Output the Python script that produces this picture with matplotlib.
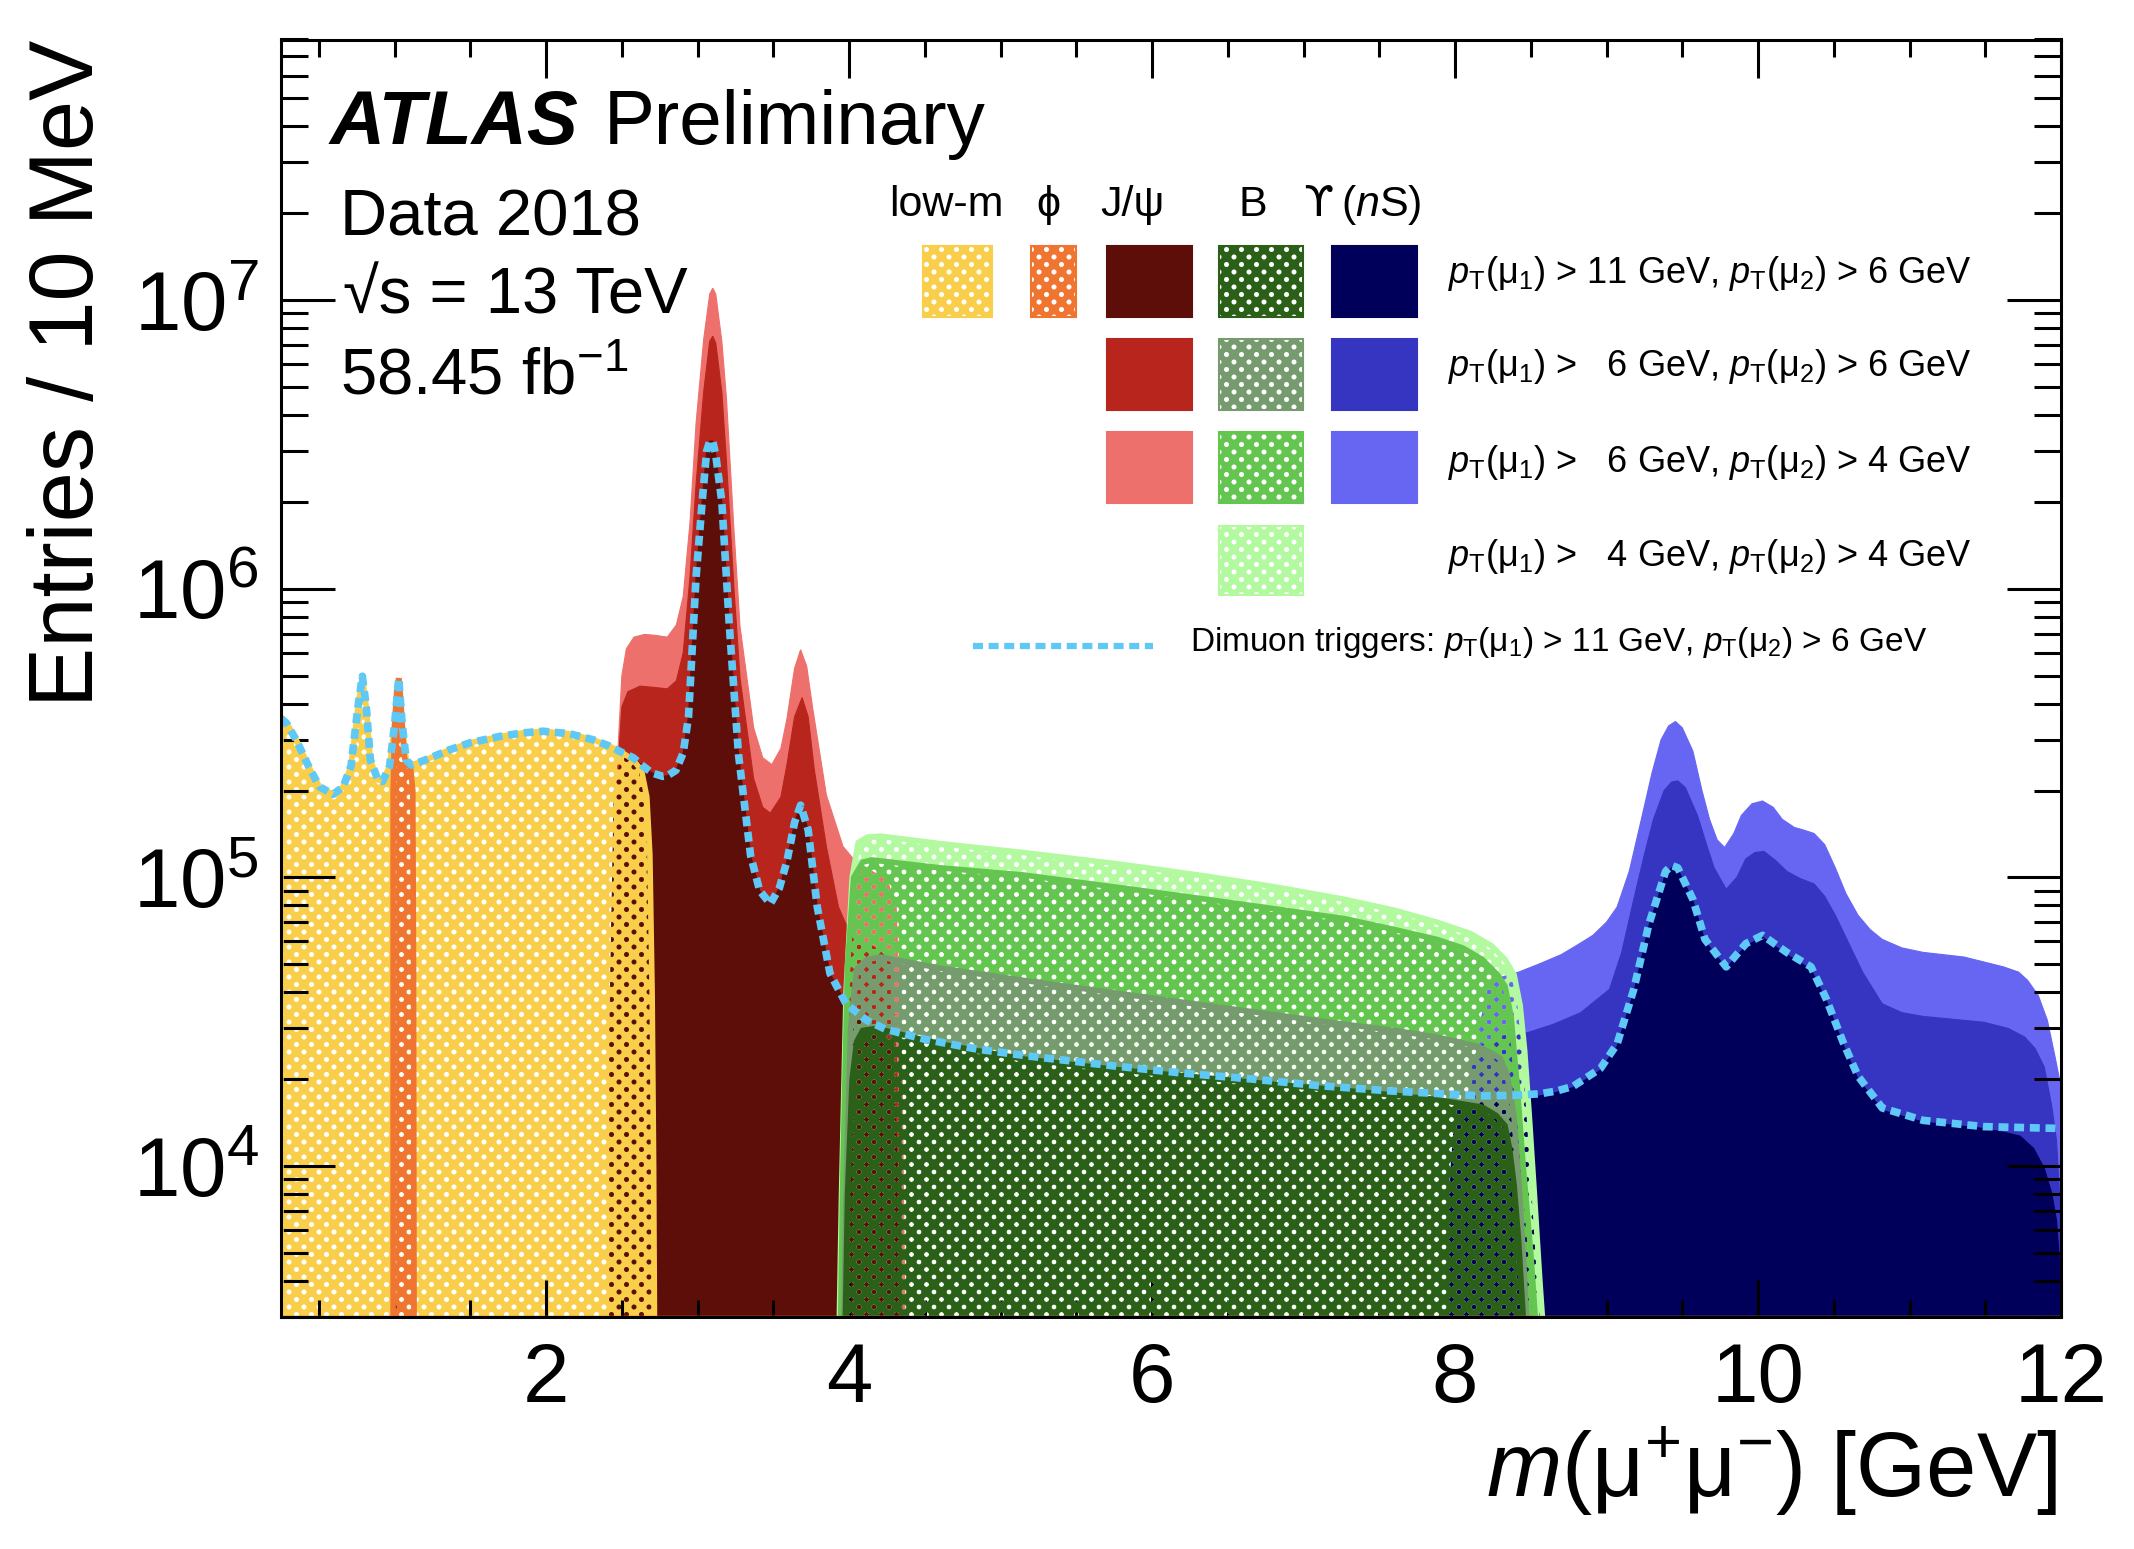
import numpy as np
import matplotlib
matplotlib.use("Agg")
import matplotlib.pyplot as plt
from matplotlib.colors import to_rgb
from matplotlib.image import AxesImage
from matplotlib.patches import Rectangle
from matplotlib.lines import Line2D
from matplotlib.ticker import MultipleLocator, LogLocator, NullFormatter

plt.rcParams["font.family"] = ["Liberation Sans", "DejaVu Sans"]
plt.rcParams["mathtext.fontset"] = "custom"
plt.rcParams["mathtext.rm"] = "Liberation Sans"
plt.rcParams["mathtext.it"] = "Liberation Sans:italic"
plt.rcParams["mathtext.bf"] = "Liberation Sans:bold"
plt.rcParams["mathtext.sf"] = "Liberation Sans"

# ---------------- data : m(mu+mu-) [GeV] -> entries / 10 MeV ----------------
# low-mass trigger (yellow)
lowm_x = [0.25, 0.25, 0.285, 0.35, 0.44, 0.505, 0.593, 0.66, 0.712, 0.758, 0.787,
          0.813, 0.84, 0.89, 0.92, 0.967, 1.0, 1.027, 1.05, 1.077, 1.11, 1.2, 1.364,
          1.5, 1.694, 1.85, 1.98, 2.15, 2.31, 2.42, 2.507, 2.575, 2.63, 2.665, 2.685,
          2.70, 2.71, 2.72]
lowm_y = [1e3, 3.6e5, 3.45e5, 3.0e5, 2.38e5, 2.06e5, 1.94e5, 2.06e5, 2.43e5, 3.9e5,
          4.98e5, 3.9e5, 2.55e5, 2.18e5, 2.15e5, 2.43e5, 3.4e5, 4.9e5, 3.4e5, 2.55e5,
          2.45e5, 2.55e5, 2.77e5, 2.93e5, 3.08e5, 3.17e5, 3.21e5, 3.15e5, 3.0e5,
          2.85e5, 2.7e5, 2.55e5, 2.35e5, 1.9e5, 1.2e5, 4e4, 1e4, 1e3]

# phi trigger (orange)
phi_x = [0.99, 0.99, 1.0, 1.015, 1.027, 1.04, 1.05, 1.065, 1.085, 1.105, 1.12, 1.125, 1.13]
phi_y = [1e3, 2e5, 3.4e5, 4.5e5, 4.9e5, 4.2e5, 3.4e5, 2.6e5, 2.45e5, 2.4e5, 2.0e5, 5e4, 1e3]

# J/psi triggers : 6/4, 6/6, 11/6 GeV
jpsi64_x = [2.40, 2.43, 2.47, 2.50, 2.53, 2.58, 2.65, 2.72, 2.80, 2.86, 2.905, 2.95,
            2.99, 3.04, 3.08, 3.10, 3.12, 3.16, 3.19, 3.24, 3.28, 3.37, 3.43, 3.49,
            3.55, 3.59, 3.64, 3.68, 3.72, 3.76, 3.85, 3.96, 4.04, 4.15, 4.25, 4.31,
            4.35, 4.38]
jpsi64_y = [1e3, 5e4, 2.5e5, 5.0e5, 6.2e5, 6.8e5, 6.95e5, 6.9e5, 6.8e5, 7.5e5, 9.4e5,
            1.7e6, 3.75e6, 7.3e6, 1.05e7, 1.1e7, 1.05e7, 7.2e6, 4.6e6, 1.6e6, 7.4e5,
            3.3e5, 2.6e5, 2.46e5, 2.8e5, 3.55e5, 5.3e5, 6.15e5, 5.4e5, 3.85e5, 1.93e5,
            1.28e5, 1.14e5, 1.05e5, 9.8e4, 8e4, 2e4, 1e3]
jpsi66_x = [2.40, 2.43, 2.47, 2.50, 2.54, 2.62, 2.72, 2.80, 2.86, 2.905, 2.95, 2.99,
            3.04, 3.08, 3.10, 3.12, 3.16, 3.19, 3.24, 3.28, 3.37, 3.43, 3.48, 3.55,
            3.59, 3.64, 3.69, 3.73, 3.77, 3.85, 3.93, 4.0, 4.1, 4.2, 4.28, 4.33, 4.36]
jpsi66_y = [1e3, 4e4, 2.2e5, 3.9e5, 4.4e5, 4.6e5, 4.55e5, 4.5e5, 4.8e5, 6e5, 1.1e6,
            2.3e6, 4.8e6, 7.2e6, 7.5e6, 7.1e6, 4.8e6, 2.8e6, 1.0e6, 4.9e5, 2.2e5,
            1.75e5, 1.67e5, 1.9e5, 2.46e5, 3.6e5, 4.2e5, 3.6e5, 2.37e5, 1.28e5, 7.9e4,
            6.5e4, 6.0e4, 5.6e4, 5e4, 1.5e4, 1e3]
jpsi116_x = [2.40, 2.42, 2.45, 2.50, 2.575, 2.64, 2.70, 2.77, 2.80, 2.857, 2.905, 2.94,
             2.99, 3.03, 3.06, 3.08, 3.10, 3.12, 3.16, 3.21, 3.27, 3.35, 3.41, 3.48,
             3.54, 3.59, 3.64, 3.68, 3.73, 3.79, 3.874, 3.98, 4.116, 4.2, 4.28, 4.33,
             4.37]
jpsi116_y = [1e3, 3e4, 2e5, 2.6e5, 2.6e5, 2.43e5, 2.3e5, 2.24e5, 2.25e5, 2.35e5,
             2.7e5, 3.6e5, 1.1e6, 2.0e6, 3.0e6, 3.25e6, 3.25e6, 2.9e6, 2.0e6, 7.4e5,
             2.67e5, 1.19e5, 9e4, 8.1e4, 9.2e4, 1.14e5, 1.55e5, 1.78e5, 1.46e5, 7.9e4,
             4.65e4, 3.65e4, 3.2e4, 3.0e4, 2.6e4, 8e3, 1e3]

# B triggers : 4/4, 6/4, 6/6, 11/6 GeV
b44_x = [3.92, 3.95, 3.98, 4.02, 4.06, 4.12, 4.21, 4.6, 5.15, 5.8, 6.36, 6.8, 7.27,
         7.6, 7.88, 8.1, 8.24, 8.33, 8.39, 8.43, 8.46, 8.49, 8.52, 8.56, 8.60, 8.63]
b44_y = [1e3, 8e3, 4e4, 1.0e5, 1.32e5, 1.38e5, 1.39e5, 1.31e5, 1.22e5, 1.11e5, 1.01e5,
         9.3e4, 8.4e4, 7.7e4, 7.0e4, 6.4e4, 5.8e4, 5.2e4, 4.6e4, 3.6e4, 2.5e4, 1.5e4,
         8.6e3, 4e3, 2e3, 1e3]
b64_x = [3.93, 3.96, 3.99, 4.03, 4.09, 4.15, 4.6, 5.15, 5.8, 6.36, 6.8, 7.27, 7.6, 7.88,
         8.05, 8.18, 8.28, 8.33, 8.37, 8.41, 8.45, 8.50, 8.54, 8.57]
b64_y = [1e3, 1e4, 5e4, 1.0e5, 1.13e5, 1.15e5, 1.08e5, 1.02e5, 9.2e4, 8.4e4, 7.8e4,
         7.2e4, 6.6e4, 6.1e4, 5.7e4, 5.2e4, 4.6e4, 4.2e4, 3.3e4, 1.9e4, 1e4, 5e3, 2.5e3,
         1e3]
b66_x = [3.95, 3.98, 4.01, 4.05, 4.12, 4.21, 4.6, 5.15, 5.8, 6.36, 6.8, 7.27, 7.6, 7.88,
         8.15, 8.25, 8.30, 8.34, 8.37, 8.39, 8.42, 8.45, 8.48, 8.50]
b66_y = [1e3, 8e3, 3e4, 4.8e4, 5.2e4, 5.3e4, 4.85e4, 4.4e4, 3.95e4, 3.6e4, 3.35e4,
         3.1e4, 2.95e4, 2.8e4, 2.6e4, 2.45e4, 2.35e4, 2.1e4, 1.75e4, 1.46e4, 9e3, 5e3,
         2.5e3, 1e3]
b116_x = [3.96, 3.99, 4.02, 4.05, 4.09, 4.18, 4.6, 5.15, 5.8, 6.36, 6.8, 7.27, 7.6, 7.88,
          8.18, 8.27, 8.33, 8.36, 8.39, 8.42, 8.45, 8.47]
b116_y = [1e3, 8e3, 2e4, 2.7e4, 2.95e4, 3.0e4, 2.65e4, 2.35e4, 2.15e4, 2.02e4, 1.92e4,
          1.83e4, 1.76e4, 1.7e4, 1.6e4, 1.5e4, 1.38e4, 1.15e4, 8.6e3, 5.5e3, 3e3, 1e3]

# Upsilon triggers : 6/4, 6/6, 11/6 GeV
ups64_x = [8.10, 8.13, 8.16, 8.22, 8.30, 8.42, 8.55, 8.70, 8.80, 8.91, 9.0, 9.07, 9.15,
           9.23, 9.30, 9.36, 9.41, 9.455, 9.50, 9.57, 9.63, 9.68, 9.73, 9.78, 9.84,
           9.89, 9.96, 10.03, 10.10, 10.16, 10.24, 10.30, 10.37, 10.44, 10.51, 10.58,
           10.66, 10.74, 10.82, 10.95, 11.09, 11.36, 11.62, 11.72, 11.78, 11.85, 11.91,
           11.96, 11.99, 12.0]
ups64_y = [1e3, 1e4, 3e4, 4.2e4, 4.5e4, 4.7e4, 5.0e4, 5.4e4, 5.8e4, 6.3e4, 7.0e4, 7.9e4,
           1.05e5, 1.59e5, 2.3e5, 3.0e5, 3.35e5, 3.47e5, 3.3e5, 2.74e5, 2.0e5, 1.59e5,
           1.35e5, 1.27e5, 1.42e5, 1.64e5, 1.8e5, 1.84e5, 1.75e5, 1.59e5, 1.49e5,
           1.46e5, 1.42e5, 1.3e5, 1.08e5, 8.8e4, 7.4e4, 6.6e4, 6.1e4, 5.7e4, 5.5e4,
           5.3e4, 4.9e4, 4.7e4, 4.4e4, 3.9e4, 3.2e4, 2.4e4, 2e4, 1e3]
ups66_x = [8.04, 8.07, 8.10, 8.16, 8.25, 8.35, 8.48, 8.65, 8.83, 9.02, 9.10, 9.18, 9.25,
           9.31, 9.38, 9.43, 9.47, 9.52, 9.60, 9.66, 9.71, 9.79, 9.86, 9.92, 9.98, 10.04,
           10.12, 10.19, 10.28, 10.37, 10.44, 10.51, 10.60, 10.69, 10.82, 10.95, 11.09,
           11.49, 11.65, 11.76, 11.83, 11.89, 11.94, 11.97, 12.0, 12.0]
ups66_y = [1e3, 1e4, 2.2e4, 2.6e4, 2.75e4, 2.85e4, 2.9e4, 3.1e4, 3.4e4, 4.1e4, 5.5e4,
           8.4e4, 1.2e5, 1.59e5, 2.0e5, 2.14e5, 2.16e5, 2.05e5, 1.64e5, 1.3e5, 1.08e5,
           9.1e4, 1.0e5, 1.16e5, 1.22e5, 1.23e5, 1.14e5, 1.05e5, 9.9e4, 9.5e4, 8.6e4,
           7.4e4, 5.9e4, 4.7e4, 3.65e4, 3.4e4, 3.3e4, 3.15e4, 3.0e4, 2.8e4, 2.55e4,
           2.2e4, 1.6e4, 1.23e4, 6.5e3, 1e3]
ups116_x = [7.93, 7.96, 8.0, 8.05, 8.2, 8.4, 8.56, 8.67, 8.78, 8.96, 9.07, 9.18, 9.28,
            9.39, 9.43, 9.47, 9.57, 9.65, 9.79, 9.92, 10.03, 10.19, 10.35, 10.45, 10.56,
            10.66, 10.82, 11.09, 11.49, 11.65, 11.73, 11.82, 11.89, 11.94, 11.97, 12.0,
            12.0]
ups116_y = [1e3, 8e3, 1.5e4, 1.68e4, 1.7e4, 1.72e4, 1.75e4, 1.8e4, 1.87e4, 2.15e4,
            2.6e4, 4.0e4, 6.8e4, 1.03e5, 1.08e5, 1.07e5, 8.3e4, 6.0e4, 4.85e4, 5.8e4,
            6.2e4, 5.4e4, 4.8e4, 3.75e4, 2.65e4, 2.0e4, 1.56e4, 1.42e4, 1.35e4, 1.3e4,
            1.27e4, 1.15e4, 9.8e3, 8e3, 6.5e3, 4e3, 1e3]

# dimuon triggers pT > 11, 6 GeV (dashed)
trig_x = [0.25, 0.285, 0.35, 0.44, 0.505, 0.593, 0.66, 0.712, 0.758, 0.787, 0.813, 0.84,
          0.89, 0.92, 0.967, 1.0, 1.027, 1.05, 1.077, 1.11, 1.2, 1.364, 1.5, 1.694,
          1.85, 1.98, 2.15, 2.31, 2.42, 2.507, 2.575, 2.64, 2.70, 2.77, 2.80, 2.857,
          2.905, 2.94, 2.99, 3.03, 3.06, 3.08, 3.10, 3.12, 3.16, 3.21, 3.27, 3.35, 3.41,
          3.48, 3.54, 3.59, 3.64, 3.68, 3.73, 3.79, 3.874, 3.98, 4.116, 4.24, 4.5, 4.85,
          5.2, 5.76, 6.2, 6.67, 7.1, 7.58, 8.0, 8.18, 8.4, 8.56, 8.67, 8.78, 8.96, 9.07,
          9.18, 9.28, 9.39, 9.43, 9.47, 9.57, 9.65, 9.79, 9.92, 10.03, 10.19, 10.35,
          10.45, 10.56, 10.66, 10.82, 11.09, 11.49, 12.0]
trig_y = [3.55e5, 3.43e5, 3.0e5, 2.38e5, 2.06e5, 1.94e5, 2.06e5, 2.43e5, 3.9e5, 4.98e5,
          3.9e5, 2.55e5, 2.18e5, 2.15e5, 2.43e5, 3.4e5, 4.9e5, 3.4e5, 2.55e5, 2.45e5,
          2.55e5, 2.77e5, 2.93e5, 3.08e5, 3.17e5, 3.21e5, 3.15e5, 3.0e5, 2.85e5, 2.7e5,
          2.6e5, 2.43e5, 2.3e5, 2.24e5, 2.25e5, 2.35e5, 2.7e5, 3.6e5, 1.1e6, 2.0e6,
          3.0e6, 3.25e6, 3.25e6, 2.9e6, 2.0e6, 7.4e5, 2.67e5, 1.19e5, 9e4, 8.1e4, 9.2e4,
          1.14e5, 1.55e5, 1.78e5, 1.46e5, 7.9e4, 4.65e4, 3.65e4, 3.2e4, 2.98e4, 2.75e4,
          2.54e4, 2.4e4, 2.22e4, 2.1e4, 2.0e4, 1.9e4, 1.82e4, 1.77e4, 1.75e4, 1.76e4,
          1.78e4, 1.82e4, 1.89e4, 2.18e4, 2.65e4, 4.1e4, 6.9e4, 1.05e5, 1.1e5, 1.08e5,
          8.4e4, 6.1e4, 4.9e4, 5.9e4, 6.3e4, 5.5e4, 4.9e4, 3.8e4, 2.7e4, 2.05e4, 1.59e4,
          1.44e4, 1.37e4, 1.35e4]

# colours
C_LOWM = "#F9CE4A"
C_PHI = "#EF7530"
C_JPSI = {"116": "#5E0E09", "66": "#B8251C", "64": "#ED706C"}
C_B = {"116": "#2B6019", "66": "#769B6E", "64": "#64C550", "44": "#B2F9A0"}
C_UPS = {"116": "#00005A", "66": "#3535C1", "64": "#6666F2"}
C_TRIG = "#5EC8F6"

# ---------------- figure ----------------
W, H = 2134, 1549
fig = plt.figure(figsize=(W / 100, H / 100), dpi=100)


def fx(px):
    return px / W


def fy(py):
    return 1 - py / H


ax = fig.add_axes([fx(281), fy(1317), fx(2061) - fx(281), fy(39.5) - fy(1317)])
ax.set_yscale("log")
ax.set_xlim(0.25, 12)
ax.set_ylim(3e3, 8e7)

# ROOT-like fill pattern: solid colour with a lattice of transparent holes
bb = ax.get_window_extent()
pw, ph = int(round(bb.width)), int(round(bb.height))
gy, gx = np.mgrid[0:ph, 0:pw].astype(float)
P = 15.0
u = np.mod(gx + gy, P)
v = np.mod(gx - gy, P)
du = np.minimum(u, P - u)
dv = np.minimum(v, P - v)
dist = np.sqrt((du ** 2 + dv ** 2) / 2)
cover = (np.clip(dist - 2.0, 0, 1) * 255).astype(np.uint8)


def add_pattern(color, z, clip=None, box=None):
    i0, i1, j0, j1 = 0, ph, 0, pw
    if box is not None:
        x0, x1, y0, y1 = box
        top = H - bb.y1
        j0, j1 = int(round(x0 - bb.x0)), int(round(x1 - bb.x0))
        i0, i1 = int(round(y0 - top)), int(round(y1 - top))
    rgba = np.empty((i1 - i0, j1 - j0, 4), dtype=np.uint8)
    rgba[..., :3] = (np.array(to_rgb(color)) * 255).astype(np.uint8)
    rgba[..., 3] = cover[i0:i1, j0:j1]
    im = AxesImage(ax, extent=(j0 / pw, j1 / pw, 1 - i1 / ph, 1 - i0 / ph),
                   transform=ax.transAxes, interpolation="nearest", origin="upper")
    im.set_data(rgba)
    if clip is not None:
        im.set_clip_path(clip)
    im.set_zorder(z)
    ax.add_image(im)


def solid(x, y, color, z):
    ax.fill(x, y, facecolor=color, edgecolor=color, lw=0.8, zorder=z)


def hatched(x, y, color, z):
    poly = ax.fill(x, y, facecolor="none", edgecolor=color, lw=4, zorder=z + 0.01)[0]
    add_pattern(color, z, clip=poly)


solid(jpsi64_x, jpsi64_y, C_JPSI["64"], 1.0)
solid(jpsi66_x, jpsi66_y, C_JPSI["66"], 1.1)
solid(jpsi116_x, jpsi116_y, C_JPSI["116"], 1.2)
solid(ups64_x, ups64_y, C_UPS["64"], 1.0)
solid(ups66_x, ups66_y, C_UPS["66"], 1.1)
solid(ups116_x, ups116_y, C_UPS["116"], 1.2)
hatched(lowm_x, lowm_y, C_LOWM, 1.5)
hatched(phi_x, phi_y, C_PHI, 1.6)
hatched(b44_x, b44_y, C_B["44"], 1.7)
hatched(b64_x, b64_y, C_B["64"], 1.8)
hatched(b66_x, b66_y, C_B["66"], 1.9)
hatched(b116_x, b116_y, C_B["116"], 2.0)

ax.axhline(ax.get_ylim()[0], color=C_PHI, lw=2.5, zorder=2.2)
ax.plot(trig_x, trig_y, color=C_TRIG, lw=5.5, ls=(0, (1.3, 0.75)), zorder=3)

# axes styling
for s in ax.spines.values():
    s.set_linewidth(2.2)
    s.set_zorder(4)
ax.xaxis.set_major_locator(MultipleLocator(2))
ax.xaxis.set_minor_locator(MultipleLocator(0.5))
ax.yaxis.set_major_locator(LogLocator(base=10, numticks=20))
ax.yaxis.set_minor_locator(LogLocator(base=10, subs=np.arange(2, 10), numticks=20))
ax.yaxis.set_minor_formatter(NullFormatter())
ax.tick_params(which="both", direction="in", top=True, right=True, width=2.2,
               labelsize=60)
ax.tick_params(axis="x", which="major", length=27, pad=17)
ax.tick_params(axis="x", which="minor", length=12)
ax.tick_params(axis="y", which="major", length=39, pad=16)
ax.tick_params(axis="y", which="minor", length=19.5)

# axis titles
fig.text(fx(27), fy(40), "Entries / 10 MeV", rotation=90, ha="left", va="top",
         fontsize=65)
fig.text(fx(2057), fy(1497), r"$m$(μ$^{+}$μ$^{-}$) [GeV]", ha="right",
         va="baseline", fontsize=65)

# ATLAS label block
fig.text(fx(330), fy(144), "ATLAS", fontsize=55, fontweight="bold",
         fontstyle="italic", va="baseline")
fig.text(fx(604), fy(144), "Preliminary", fontsize=55, va="baseline")
fig.text(fx(340), fy(235), "Data 2018", fontsize=47, va="baseline")
fig.text(fx(343), fy(314), "\u221as = 13 TeV", fontsize=47, va="baseline")
fig.text(fx(340), fy(395), r"58.45 fb$^{-1}$", fontsize=47, va="baseline")

# legend: column headers
hdr_y = fy(216)
fig.text(fx(889), hdr_y, "low-m", fontsize=31, va="baseline")
fig.text(fx(1036), hdr_y, "\u03d5", fontsize=31, va="baseline")
fig.text(fx(1100), hdr_y, "J/ψ", fontsize=31, va="baseline")
fig.text(fx(1238), hdr_y, "B", fontsize=31, va="baseline")
fig.text(fx(1303), hdr_y, "\u03d2", fontsize=31, va="baseline", family="DejaVu Sans")
fig.text(fx(1341), hdr_y, r"($n$S)", fontsize=31, va="baseline")

# legend boxes (columns / rows in canvas pixels)
cols = {"lowm": (923, 992), "phi": (1031, 1076), "jpsi": (1107, 1192),
        "b": (1219, 1303), "ups": (1332, 1417)}
rows = [(246, 317), (339, 410), (432, 503), (526, 595)]
entries = [("lowm", 0, C_LOWM, True), ("phi", 0, C_PHI, True),
           ("jpsi", 0, C_JPSI["116"], False), ("b", 0, C_B["116"], True),
           ("ups", 0, C_UPS["116"], False),
           ("jpsi", 1, C_JPSI["66"], False), ("b", 1, C_B["66"], True),
           ("ups", 1, C_UPS["66"], False),
           ("jpsi", 2, C_JPSI["64"], False), ("b", 2, C_B["64"], True),
           ("ups", 2, C_UPS["64"], False),
           ("b", 3, C_B["44"], True)]
for col, row, color, hatch in entries:
    x0, x1 = cols[col]
    y0, y1 = rows[row]
    rect = Rectangle((fx(x0), fy(y1)), fx(x1) - fx(x0), fy(y0) - fy(y1),
                     transform=fig.transFigure, lw=1.5, edgecolor=color,
                     facecolor="none" if hatch else color, zorder=5)
    fig.add_artist(rect)
    if hatch:
        add_pattern(color, 5, box=(x0, x1, y0, y1))

row_text = [r"$p_{\rm T}$(μ$_{1}$) > 11 GeV, $p_{\rm T}$(μ$_{2}$) > 6 GeV",
            r"$p_{\rm T}$(μ$_{1}$) >   6 GeV, $p_{\rm T}$(μ$_{2}$) > 6 GeV",
            r"$p_{\rm T}$(μ$_{1}$) >   6 GeV, $p_{\rm T}$(μ$_{2}$) > 4 GeV",
            r"$p_{\rm T}$(μ$_{1}$) >   4 GeV, $p_{\rm T}$(μ$_{2}$) > 4 GeV"]
for txt, base in zip(row_text, [283, 376, 472, 566]):
    fig.text(fx(1448), fy(base), txt, fontsize=26, va="baseline")

fig.add_artist(Line2D([fx(973), fx(1153)], [fy(646), fy(646)], transform=fig.transFigure,
                      color=C_TRIG, lw=4.5, ls=(0, (1.6, 0.9))))
fig.text(fx(1190), fy(651),
         r"Dimuon triggers: $p_{\rm T}$(μ$_{1}$) > 11 GeV, $p_{\rm T}$(μ$_{2}$) > 6 GeV",
         fontsize=24, va="baseline")

fig.savefig("out.png", dpi=100, facecolor="white")
plt.close(fig)
